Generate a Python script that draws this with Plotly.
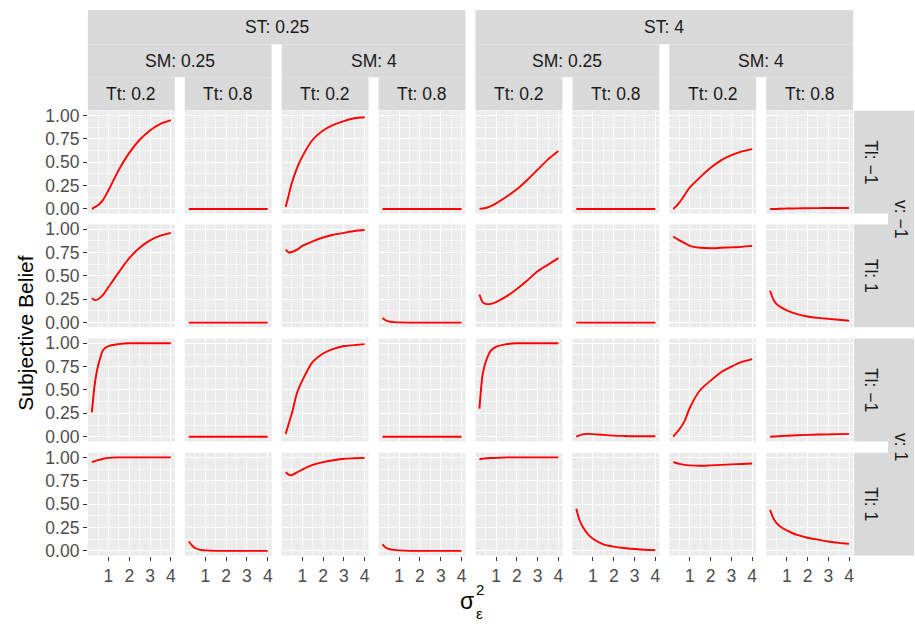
import plotly.graph_objects as go

# Error variance values on the x axis
sigma2 = [0.2, 0.35, 0.5, 0.75, 1.0, 1.5, 2.0, 2.5, 3.0, 3.5, 4.0]

# Facet levels
st_levels = ["0.25", "4"]
sm_levels = ["0.25", "4"]
tt_levels = ["0.2", "0.8"]
v_levels = ["−1", "1"]
tl_levels = ["−1", "1"]

# Subjective belief, one row of panels per (v, Tl);
# columns ordered ST x SM x Tt
belief_vneg_tlneg = [
    [0.0, 0.02, 0.04, 0.10, 0.20, 0.42, 0.60, 0.74, 0.84, 0.91, 0.95],
    [0.0] * 11,
    [0.02, 0.15, 0.28, 0.44, 0.56, 0.74, 0.84, 0.90, 0.94, 0.97, 0.98],
    [0.0] * 11,
    [0.0, 0.005, 0.01, 0.03, 0.06, 0.13, 0.21, 0.31, 0.42, 0.53, 0.62],
    [0.0] * 11,
    [0.0, 0.03, 0.07, 0.15, 0.23, 0.34, 0.44, 0.52, 0.575, 0.615, 0.64],
    [0.0, 0.0, 0.0, 0.002, 0.004, 0.006, 0.008, 0.009, 0.01, 0.01, 0.01],
]
belief_vneg_tlpos = [
    [0.26, 0.24, 0.25, 0.30, 0.38, 0.54, 0.69, 0.80, 0.88, 0.93, 0.96],
    [0.0] * 11,
    [0.78, 0.75, 0.755, 0.78, 0.82, 0.87, 0.91, 0.94, 0.96, 0.98, 0.99],
    [0.05, 0.025, 0.012, 0.005, 0.002, 0.0, 0.0, 0.0, 0.0, 0.0, 0.0],
    [0.30, 0.22, 0.20, 0.20, 0.22, 0.28, 0.36, 0.45, 0.55, 0.62, 0.69],
    [0.0] * 11,
    [0.92, 0.90, 0.88, 0.85, 0.82, 0.80, 0.795, 0.80, 0.805, 0.81, 0.82],
    [0.34, 0.25, 0.20, 0.16, 0.13, 0.09, 0.065, 0.05, 0.04, 0.03, 0.02],
]
belief_vpos_tlneg = [
    [0.26, 0.58, 0.76, 0.93, 0.97, 0.99, 1.0, 1.0, 1.0, 1.0, 1.0],
    [0.0] * 11,
    [0.03, 0.14, 0.25, 0.47, 0.60, 0.80, 0.89, 0.94, 0.97, 0.98, 0.99],
    [0.0] * 11,
    [0.30, 0.66, 0.80, 0.92, 0.96, 0.99, 1.0, 1.0, 1.0, 1.0, 1.0],
    [0.0, 0.015, 0.025, 0.03, 0.028, 0.02, 0.012, 0.008, 0.005, 0.005, 0.005],
    [0.0, 0.04, 0.08, 0.17, 0.31, 0.50, 0.60, 0.69, 0.75, 0.80, 0.83],
    [0.0, 0.002, 0.004, 0.007, 0.01, 0.015, 0.02, 0.023, 0.025, 0.028, 0.03],
]
belief_vpos_tlpos = [
    [0.95, 0.96, 0.97, 0.985, 0.995, 1.0, 1.0, 1.0, 1.0, 1.0, 1.0],
    [0.10, 0.06, 0.03, 0.01, 0.005, 0.0, 0.0, 0.0, 0.0, 0.0, 0.0],
    [0.84, 0.815, 0.81, 0.84, 0.87, 0.92, 0.95, 0.97, 0.985, 0.99, 0.995],
    [0.07, 0.035, 0.02, 0.01, 0.005, 0.0, 0.0, 0.0, 0.0, 0.0, 0.0],
    [0.98, 0.985, 0.99, 0.993, 0.995, 1.0, 1.0, 1.0, 1.0, 1.0, 1.0],
    [0.45, 0.33, 0.26, 0.18, 0.13, 0.07, 0.045, 0.03, 0.02, 0.012, 0.008],
    [0.95, 0.94, 0.93, 0.92, 0.915, 0.91, 0.915, 0.92, 0.925, 0.93, 0.935],
    [0.44, 0.35, 0.30, 0.25, 0.22, 0.17, 0.14, 0.12, 0.10, 0.085, 0.075],
]
panel_rows = [belief_vneg_tlneg, belief_vneg_tlpos, belief_vpos_tlneg, belief_vpos_tlpos]

x_ticks = [1, 2, 3, 4]
y_ticks = [0, 0.25, 0.5, 0.75, 1.0]
y_ticklabels = ["0.00", "0.25", "0.50", "0.75", "1.00"]

# ---- layout geometry (pixels) ----
W, H = 915, 624
col_left = [88 + 97 * i for i in range(8)]
col_w = 87
row_top = [107.5, 223.0, 339.0, 455.0]
row_h = 104.5
strip_tops = [5.0, 40.0, 73.5]
strip_bottom = 107.0
tl_strip = (855.0, 889.0)
v_strip = (889.0, 915.0)

FONT = "Liberation Sans, Arial, sans-serif"
PANEL_BG = "#EBEBEB"
STRIP_BG = "#D9D9D9"
STRIP_FONT = 17.5
TICK_FONT = 17.5


def fx(px):
    return px / W


def fy(py):
    return 1 - py / H


fig = go.Figure()
layout = dict(
    width=W, height=H, margin=dict(l=0, r=0, t=0, b=0),
    paper_bgcolor="white", plot_bgcolor=PANEL_BG,
    showlegend=False, font=dict(family=FONT),
)

for r in range(4):
    for c in range(8):
        idx = r * 8 + c + 1
        sfx = "" if idx == 1 else str(idx)
        fig.add_trace(go.Scatter(
            x=sigma2, y=panel_rows[r][c], mode="lines",
            line=dict(color="#FF0000", width=1.9, shape="spline", smoothing=0.7),
            xaxis="x" + sfx, yaxis="y" + sfx, hoverinfo="skip",
        ))
        bottom = r == 3
        left = c == 0
        layout["xaxis" + sfx] = dict(
            domain=[fx(col_left[c]), fx(col_left[c] + col_w)],
            anchor="y" + sfx, range=[0.01, 4.19],
            tickvals=x_ticks, showticklabels=bottom,
            ticks="outside" if bottom else "", ticklen=4, tickwidth=1.1, tickcolor="#333333",
            tickfont=dict(size=TICK_FONT, color="#4D4D4D", family=FONT),
            showgrid=True, gridcolor="white", gridwidth=1.2,
            minor=dict(tickvals=[0.5, 1.5, 2.5, 3.5], showgrid=True,
                       gridcolor="#F7F7F7", gridwidth=0.6, ticks=""),
            zeroline=False, showline=False, fixedrange=True,
        )
        layout["yaxis" + sfx] = dict(
            domain=[fy(row_top[r] + row_h), fy(row_top[r])],
            anchor="x" + sfx, range=[-0.05, 1.05],
            tickvals=y_ticks, ticktext=y_ticklabels, showticklabels=left,
            ticks="outside" if left else "", ticklen=4, tickwidth=1.1, tickcolor="#333333",
            tickfont=dict(size=TICK_FONT, color="#4D4D4D", family=FONT),
            showgrid=True, gridcolor="white", gridwidth=1.2,
            minor=dict(tickvals=[0.125, 0.375, 0.625, 0.875], showgrid=True,
                       gridcolor="#F7F7F7", gridwidth=0.6, ticks=""),
            zeroline=False, showline=False, fixedrange=True,
        )

shapes = []
annotations = []


def strip(x0, x1, y0, y1, text, angle=0, size=STRIP_FONT):
    shapes.append(dict(type="rect", xref="paper", yref="paper",
                       x0=fx(x0), x1=fx(x1), y0=fy(y1), y1=fy(y0),
                       fillcolor=STRIP_BG, line=dict(width=0), layer="below"))
    annotations.append(dict(xref="paper", yref="paper",
                            x=fx((x0 + x1) / 2), y=fy((y0 + y1) / 2),
                            text=text, showarrow=False, textangle=angle,
                            xanchor="center", yanchor="middle",
                            font=dict(size=size, color="#1A1A1A", family=FONT)))


# top strips: ST / SM / Tt (nested)
for i, st in enumerate(st_levels):
    c0 = i * 4
    strip(col_left[c0], col_left[c0 + 3] + col_w, strip_tops[0], strip_tops[1], "ST: " + st)
    for j, sm in enumerate(sm_levels):
        c1 = c0 + j * 2
        strip(col_left[c1], col_left[c1 + 1] + col_w, strip_tops[1], strip_tops[2], "SM: " + sm)
        for k, tt in enumerate(tt_levels):
            cc = c1 + k
            strip(col_left[cc], col_left[cc] + col_w, strip_tops[2], strip_bottom, "Tt: " + tt)

# right strips: Tl (inner) and v (outer)
for i, v in enumerate(v_levels):
    r0 = i * 2
    strip(v_strip[0], v_strip[1], row_top[r0], row_top[r0 + 1] + row_h, "v: " + v, angle=90)
    for j, tl in enumerate(tl_levels):
        rr = r0 + j
        strip(tl_strip[0], tl_strip[1], row_top[rr], row_top[rr] + row_h, "Tl: " + tl, angle=90)

# axis titles
annotations.append(dict(xref="paper", yref="paper", x=fx(26), y=fy(333),
                        text="Subjective Belief", showarrow=False, textangle=-90,
                        xanchor="center", yanchor="middle",
                        font=dict(size=21, color="black", family=FONT)))
annotations.append(dict(xref="paper", yref="paper", x=fx(468), y=fy(606),
                        text="σ", showarrow=False, xanchor="center", yanchor="middle",
                        font=dict(size=23, color="black", family=FONT)))
annotations.append(dict(xref="paper", yref="paper", x=fx(480.5), y=fy(594),
                        text="2", showarrow=False, xanchor="center", yanchor="middle",
                        font=dict(size=15, color="black", family=FONT)))
annotations.append(dict(xref="paper", yref="paper", x=fx(480.5), y=fy(618),
                        text="ε", showarrow=False, xanchor="center", yanchor="middle",
                        font=dict(size=15, color="black", family=FONT)))

layout["shapes"] = shapes
layout["annotations"] = annotations
fig.update_layout(**layout)
fig.write_html("out.html")
